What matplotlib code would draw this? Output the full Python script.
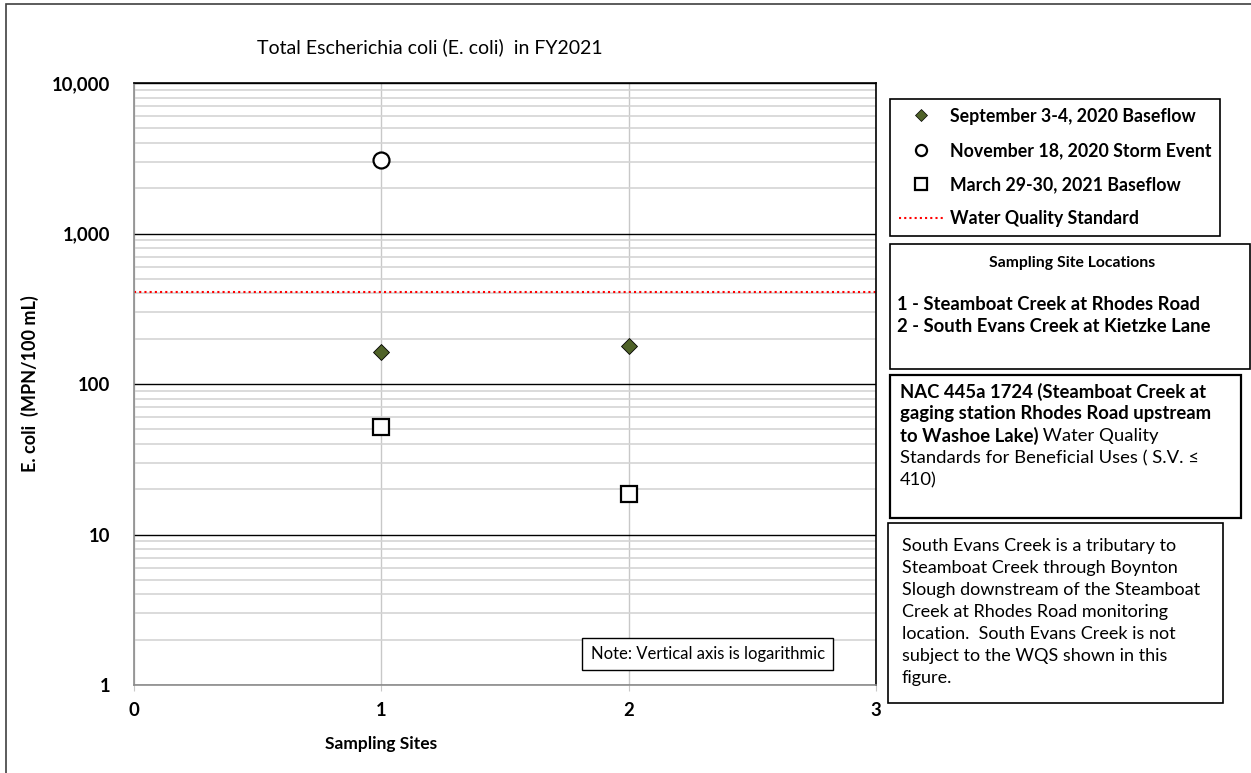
import matplotlib
matplotlib.use("Agg")
import matplotlib.pyplot as plt
from matplotlib.lines import Line2D
from matplotlib.patches import Rectangle
from matplotlib.ticker import FixedLocator, FuncFormatter, NullFormatter

plt.rcParams['font.family'] = ['Lato', 'DejaVu Sans']

# Data
sites = [1, 2]
sep_baseflow = [163, 179]        # September 3-4, 2020 Baseflow
nov_storm_sites = [1]
nov_storm = [3100]               # November 18, 2020 Storm Event
mar_baseflow = [52, 18.7]        # March 29-30, 2021 Baseflow
wqs_value = 410                  # Water Quality Standard (S.V.)
x_ticks = [0, 1, 2, 3]
y_ticks = [1, 10, 100, 1000, 10000]

W, H = 1251, 773
fig = plt.figure(figsize=(W / 100, H / 100), dpi=100)


def fx(px):
    return px / W


def fy(py):
    return 1 - py / H


# Outer frame of the chart area
fig.add_artist(Rectangle((fx(6), fy(800)), fx(1300), fy(4) - fy(800),
                         transform=fig.transFigure, fill=False,
                         edgecolor='#404040', linewidth=1.2))

ax = fig.add_axes([fx(134), fy(685), fx(876) - fx(134), fy(83) - fy(685)])
ax.set_yscale('log')
ax.set_ylim(1, 10000)
ax.set_xlim(0, 3)

# Grid: light minor lines, black decade lines, light vertical lines
minor = [m * 10 ** d for d in range(4) for m in range(2, 10)]
ax.yaxis.set_minor_locator(FixedLocator(minor))
ax.yaxis.set_minor_formatter(NullFormatter())
ax.yaxis.set_major_locator(FixedLocator(y_ticks))
ax.yaxis.set_major_formatter(FuncFormatter(lambda v, p: f"{int(round(v)):,}"))
ax.set_xticks(x_ticks)
ax.grid(which='minor', axis='y', color='#d4d4d4', linewidth=1.2)
ax.grid(which='major', axis='y', color='black', linewidth=1.0)
ax.grid(which='major', axis='x', color='#c8c8c8', linewidth=1.0)
ax.set_axisbelow(True)

for side in ['left', 'bottom']:
    ax.spines[side].set_color('#8c8c8c')
    ax.spines[side].set_linewidth(1.2)
for side in ['top', 'right']:
    ax.spines[side].set_color('black')
    ax.spines[side].set_linewidth(1.2)

ax.tick_params(axis='y', which='both', length=0, pad=17, labelsize=13.3)
ax.tick_params(axis='x', which='major', length=4, color='#c8c8c8', pad=8, labelsize=13.3)
for lab in ax.get_xticklabels() + ax.get_yticklabels():
    lab.set_fontweight('bold')

# Water quality standard
ax.axhline(wqs_value, color='red', linestyle=(0, (1, 1.5)), linewidth=1.5, zorder=2)

# Sample series
ax.plot(sites, sep_baseflow, linestyle='none', marker='D', markersize=8.5,
        markerfacecolor='#4f6228', markeredgecolor='black', markeredgewidth=0.6, zorder=4)
ax.plot(nov_storm_sites, nov_storm, linestyle='none', marker='o', markersize=11.5,
        markerfacecolor='white', markeredgecolor='black', markeredgewidth=1.6, zorder=4)
ax.plot(sites, mar_baseflow, linestyle='none', marker='s', markersize=12,
        markerfacecolor='white', markeredgecolor='black', markeredgewidth=1.6, zorder=4)

ax.set_xlabel('Sampling Sites', fontsize=12.5, fontweight='bold')
ax.xaxis.set_label_coords((381 - 134) / 742, (685 - 736) / 602)
ax.set_ylabel('E. coli  (MPN/100 mL)', fontsize=13, fontweight='bold')
ax.yaxis.set_label_coords((39 - 134) / 742, 0.5)

# Note inside the plot
ax.text(0.773, 0.0515, 'Note: Vertical axis is logarithmic', transform=ax.transAxes,
        ha='center', va='center', fontsize=12, zorder=6,
        bbox=dict(boxstyle='square,pad=0.5', facecolor='white', edgecolor='black', linewidth=1.0))

# Title
fig.text(fx(257), fy(47), 'Total Escherichia coli (E. coli)  in FY2021',
         ha='left', va='center', fontsize=14)

# Legend
handles = [
    Line2D([], [], linestyle='none', marker='D', markersize=6.5, markerfacecolor='#4f6228',
           markeredgecolor='black', markeredgewidth=0.5),
    Line2D([], [], linestyle='none', marker='o', markersize=8, markerfacecolor='white',
           markeredgecolor='black', markeredgewidth=1.6),
    Line2D([], [], linestyle='none', marker='s', markersize=8.5, markerfacecolor='white',
           markeredgecolor='black', markeredgewidth=1.6),
    Line2D([], [], color='red', linestyle=(0, (1, 1.5)), linewidth=1.5),
]
labels = ['September 3-4, 2020 Baseflow', 'November 18, 2020 Storm Event',
          'March 29-30, 2021 Baseflow', 'Water Quality Standard']
leg = fig.legend(handles, labels, loc='upper left', bbox_to_anchor=(fx(890), fy(99)),
                 frameon=True, fancybox=False, edgecolor='black', framealpha=1,
                 prop={'weight': 'bold', 'size': 12.8}, labelspacing=0.97,
                 handlelength=2.5, handletextpad=0.4, borderpad=0.48, borderaxespad=0)
leg.get_frame().set_linewidth(1.2)


def box(x0, y0, x1, y1, lw=1.2):
    fig.add_artist(Rectangle((fx(x0), fy(y1)), fx(x1) - fx(x0), fy(y0) - fy(y1),
                             transform=fig.transFigure, fill=False,
                             edgecolor='black', linewidth=lw))


# Sampling site locations
box(890, 244, 1250, 369)
fig.text(fx(1072), fy(263), 'Sampling Site Locations', ha='center', va='center',
         fontsize=11.3, fontweight='bold')
fig.text(fx(897), fy(305), '1 - Steamboat Creek at Rhodes Road', ha='left', va='center',
         fontsize=13.3, fontweight='bold')
fig.text(fx(897), fy(327), '2 - South Evans Creek at Kietzke Lane', ha='left', va='center',
         fontsize=13.3, fontweight='bold')

# Regulation note
box(890, 375, 1241, 518, lw=1.6)
nac_lines = [
    [('NAC 445a 1724 (Steamboat Creek at', 'bold')],
    [('gaging station Rhodes Road upstream', 'bold')],
    [('to Washoe Lake)', 'bold'), (' Water Quality', 'normal')],
    [('Standards for Beneficial Uses ( S.V. \u2264', 'normal')],
    [('410)', 'normal')],
]
fig.canvas.draw()
renderer = fig.canvas.get_renderer()
for i, parts in enumerate(nac_lines):
    xpos = 900
    ypos = 392 + i * 22
    for txt, weight in parts:
        t = fig.text(fx(xpos), fy(ypos), txt, ha='left', va='center',
                     fontsize=13.3, fontweight=weight)
        bb = t.get_window_extent(renderer)
        xpos += bb.width

# Tributary note
box(888, 523, 1223, 703)
evans_lines = ['South Evans Creek is a tributary to',
               'Steamboat Creek through Boynton',
               'Slough downstream of the Steamboat',
               'Creek at Rhodes Road monitoring',
               'location.  South Evans Creek is not',
               'subject to the WQS shown in this',
               'figure.']
for i, line in enumerate(evans_lines):
    fig.text(fx(902), fy(546 + i * 22), line, ha='left', va='center', fontsize=13)

fig.savefig('out.png', dpi=100)
